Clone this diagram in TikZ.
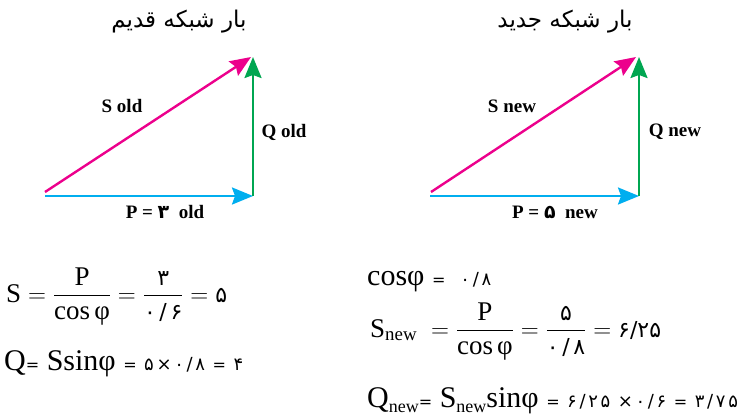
\documentclass[tikz,border=0pt]{standalone}
\usepackage{fontspec}
\usepackage{amsmath}
\setmainfont{Liberation Serif}
\newfontfamily\arabicfont[Script=Arabic]{DejaVu Sans}
\newfontfamily\fanum{DejaVu Sans}
\newfontfamily\fanumsp[LetterSpace=15]{DejaVu Sans}
\TeXXeTstate=1
\definecolor{pcyan}{RGB}{0, 174, 239}
\definecolor{smagenta}{RGB}{236, 0, 140}
\definecolor{qgreen}{RGB}{0, 166, 81}
\usetikzlibrary{arrows.meta}
\newcommand{\pnum}[1]{\text{\fontsize{22}{24}\selectfont\fanum #1}}
\newcommand{\smnum}[1]{{\fontsize{18}{20}\selectfont\fanumsp #1}}
\newcommand{\smeq}{{\fontsize{16}{18}\selectfont\fanum =}}
\newcommand{\subnew}{\raisebox{-5pt}{\fontsize{18}{20}\selectfont new}}

\begin{document}
\begin{tikzpicture}[x=1pt, y=-1pt,
    vec/.style={line width=2.4pt, -{Stealth[length=21pt, width=17pt, inset=3pt]}},
    lbl/.style={font=\fontsize{19}{22}\selectfont\bfseries},
    eqn/.style={anchor=base west, inner sep=0pt, font=\fontsize{27}{32}\selectfont},
    eqnb/.style={eqn, font=\fontsize{30}{34}\selectfont},
    title/.style={font=\fontsize{23}{28}\selectfont\arabicfont}]
\useasboundingbox (0,0) rectangle (751,416);

% old load - power triangle
\node[title] (oldT) at (179,22) {\beginR بار شبکه قدیم\endR};
\coordinate (oldO) at (45,196);
\coordinate (oldOs) at (45,192);
\coordinate (oldP) at (253,196);
\coordinate (oldS) at (251,57);
\coordinate (oldQ) at (253,57);
\draw[vec, pcyan] (oldO) -- (oldP);
\draw[vec, qgreen] (oldP) -- (oldQ);
\draw[vec, smagenta] (oldOs) -- (oldS);
\node[lbl] (oldSl) at (122,106) {S old};
\node[lbl] (oldQl) at (284,132) {Q old};
\node[lbl] (oldPl) at (165,212) {P = {\fanum ۳}\ \ old};

% new load - power triangle
\node[title] (newT) at (565,22) {\beginR بار شبکه جدید\endR};
\coordinate (newO) at (430,196);
\coordinate (newOs) at (431,192);
\coordinate (newP) at (639,196);
\coordinate (newS) at (636,57);
\coordinate (newQ) at (639,57);
\draw[vec, pcyan] (newO) -- (newP);
\draw[vec, qgreen] (newP) -- (newQ);
\draw[vec, smagenta] (newOs) -- (newS);
\node[lbl] (newSl) at (512,106) {S new};
\node[lbl] (newQl) at (675,132) {Q new};
\node[lbl] (newPl) at (555,212) {P = {\fanum ۵}\ \ new};

% old load - formulas
\node[eqn] (oldEqS) at (6,302)
  {$\text{S}=\dfrac{\text{P}}{\text{cos}\,\text{φ}}=\dfrac{\pnum{۳}}{\pnum{۰\,/\,۶}}=\pnum{۵}$};
\node[eqnb] (oldEqQ) at (4,370)
  {Q\smeq\ Ssinφ \smeq\ \smnum{۵×۰/۸} \smeq\ \smnum{۴}};

% new load - formulas
\node[eqnb] (newEqC) at (367,285) {cosφ \smeq\ \ \smnum{۰/۸}};
\node[eqn] (newEqS) at (370,337)
  {$\text{S}_{\text{new}}\;=\dfrac{\text{P}}{\text{cos}\,\text{φ}}=\dfrac{\pnum{۵}}{\pnum{۰\,/\,۸}}=\pnum{۶/۲۵}$};
\node[eqnb] (newEqQ) at (367,407)
  {Q\subnew\smeq\ S\subnew sinφ \smeq\ \smnum{۶/۲۵} \smnum{×۰/۶} \smeq\ \smnum{۳/۷۵}};
\end{tikzpicture}
\end{document}
